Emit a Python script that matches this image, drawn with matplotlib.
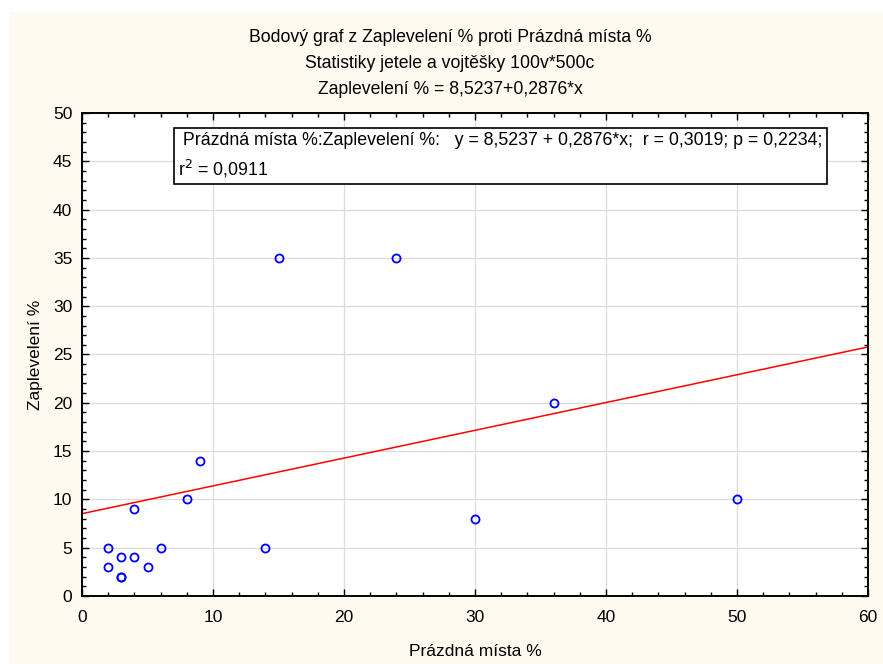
import matplotlib.pyplot as plt
import numpy as np
from matplotlib.patches import Rectangle
from matplotlib.ticker import MultipleLocator

plt.rcParams["font.family"] = ["Liberation Sans", "DejaVu Sans"]

# data
prazdna_mista = [2, 2, 3, 3, 3, 4, 4, 5, 6, 8, 9, 14, 15, 24, 30, 36, 50]
zapleveleni = [5, 3, 4, 2, 2, 9, 4, 3, 5, 10, 14, 5, 35, 35, 8, 20, 10]
intercept = 8.5237
slope = 0.2876
x_range = [0, 60]

W, H = 883, 664
fig = plt.figure(figsize=(W / 100, H / 100), dpi=100, facecolor="white")
fig.patches.append(Rectangle((10 / W, 0), 1 - 10 / W, 1 - 12 / H,
                             transform=fig.transFigure,
                             facecolor="#fffaf0", edgecolor="none",
                             zorder=-5))

ax = fig.add_axes([82 / W, 1 - 596 / H, (868 - 82) / W, (596 - 113) / H])
ax.set_facecolor("white")

xl = np.array(x_range)
ax.plot(xl, intercept + slope * xl, color="#ff0000", lw=1.1, zorder=2,
        clip_on=False)
ax.plot(prazdna_mista, zapleveleni, "o", ms=5.8, mfc="none",
        mec="#0000ff", mew=1.3, zorder=3)

ax.set_xlim(0, 60)
ax.set_ylim(0, 50)
ax.xaxis.set_major_locator(MultipleLocator(10))
ax.xaxis.set_minor_locator(MultipleLocator(2))
ax.yaxis.set_major_locator(MultipleLocator(5))
ax.yaxis.set_minor_locator(MultipleLocator(1))
ax.tick_params(which="both", direction="in", top=True, right=True,
               labelsize=12.5, width=1, pad=7)
ax.tick_params(axis="x", which="both", pad=10)
ax.tick_params(which="major", length=5)
ax.tick_params(which="minor", length=3)
ax.grid(True, which="major", color="#dcdcdc", lw=0.9, zorder=0)
ax.set_axisbelow(True)
for s in ax.spines.values():
    s.set_linewidth(1.4)

ax.set_xlabel("Prázdná místa %", fontsize=12.5, labelpad=14)
ax.set_ylabel("Zaplevelení %", fontsize=12.5, labelpad=7)

fig.text(450 / W, 1 - 38 / H, "Bodový graf z Zaplevelení % proti Prázdná místa %",
         ha="center", va="center", fontsize=12.7)
fig.text(450 / W, 1 - 64 / H, "Statistiky jetele a vojtěšky 100v*500c",
         ha="center", va="center", fontsize=12.7)
fig.text(450 / W, 1 - 90 / H, "Zaplevelení % = 8,5237+0,2876*x",
         ha="center", va="center", fontsize=12.7)

ax.text((178 - 82) / (868 - 82), 1 - (132 - 113) / (596 - 113),
        " Prázdná místa %:Zaplevelení %:   y = 8,5237 + 0,2876*x;  "
        "r = 0,3019; p = 0,2234;\nr$^2$ = 0,0911",
        transform=ax.transAxes, ha="left", va="top", fontsize=12.8,
        linespacing=1.5,
        bbox=dict(boxstyle="square,pad=0.25", facecolor="white",
                  edgecolor="black", lw=1.2), zorder=5)

fig.savefig("out.png", dpi=100, facecolor=fig.get_facecolor())
